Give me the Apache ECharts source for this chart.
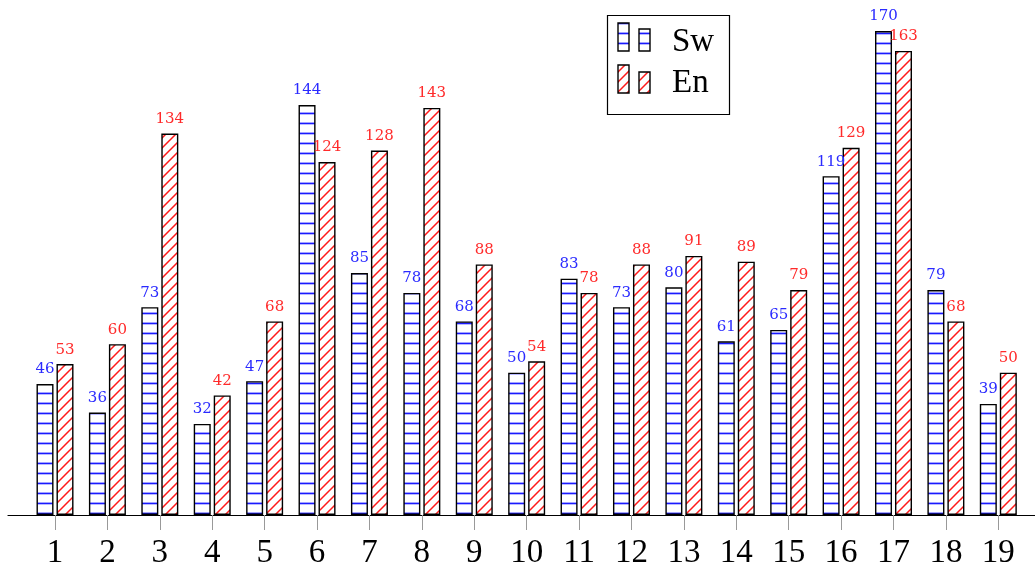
<!DOCTYPE html>
<html>
<head>
<meta charset="utf-8">
<script src="https://cdn.jsdelivr.net/npm/echarts@6/dist/echarts.min.js"></script>
<style>
html,body{margin:0;padding:0;background:#fff;}
#chart{width:1035px;height:572px;}
</style>
</head>
<body>
<div id="chart"></div>
<script>
const categories = [1,2,3,4,5,6,7,8,9,10,11,12,13,14,15,16,17,18,19];
const swValues = [46,36,73,32,47,144,85,78,68,50,83,73,80,61,65,119,170,79,39];
const enValues = [53,60,134,42,68,124,128,143,88,54,78,88,91,89,79,129,163,68,50];
const seriesNames = ['Sw','En'];

function hPattern(){
  const c = document.createElement('canvas');
  c.width = 10; c.height = 10;
  const g = c.getContext('2d');
  g.fillStyle = '#fff'; g.fillRect(0,0,10,10);
  g.fillStyle = '#1a1aff'; g.fillRect(0,2.6,10,1.7);
  return c;
}
function dPattern(){
  const c = document.createElement('canvas');
  c.width = 10; c.height = 10;
  const g = c.getContext('2d');
  g.fillStyle = '#fff'; g.fillRect(0,0,10,10);
  g.strokeStyle = '#ff1a1a'; g.lineWidth = 1.5;
  g.beginPath();
  g.moveTo(-2,12); g.lineTo(12,-2);
  g.moveTo(-2,2); g.lineTo(2,-2);
  g.moveTo(8,12); g.lineTo(12,8);
  g.stroke();
  return c;
}
const swPat = hPattern();
const enPat = dPattern();

const chart = echarts.init(document.getElementById('chart'), null, {renderer:'canvas'});
const labelFont = 'DejaVu Serif';
const axisFont = 'Liberation Serif';

function mk(name, vals, pat, lblColor){
  return {
    name: name,
    type: 'bar',
    barWidth: 17,
    barGap: '17.6%',
    data: categories.map((c,i)=>[c, vals[i]]),
    itemStyle: {color: {image: pat, repeat: 'repeat'}, borderColor: '#000', borderWidth: 1.4},
    label: {
      show: true, position: 'top', distance: 7,
      color: lblColor, fontFamily: labelFont, fontSize: 15,
      formatter: p => String(p.value[1])
    },
    emphasis: {disabled: true},
    animation: false
  };
}

const option = {
  animation: false,
  grid: {left: 8, right: 0, top: 0, bottom: 57},
  xAxis: {
    type: 'value', min: 0.103, max: 19.70,
    splitLine: {show: false},
    axisLine: {show: true, lineStyle: {color: '#000', width: 1.2}},
    axisTick: {show: true, customValues: categories, length: 15, lineStyle: {color: '#999', width: 1}},
    axisLabel: {customValues: categories, color: '#000', fontFamily: axisFont, fontSize: 33, margin: 22}
  },
  yAxis: {type: 'value', min: 0, max: 180.9, show: false, splitLine: {show: false}},
  series: [
    mk(seriesNames[0], swValues, swPat, '#2a2aff'),
    mk(seriesNames[1], enValues, enPat, '#ff2a2a')
  ],
  graphic: [
    {type: 'rect', shape: {x: 607.5, y: 15.5, width: 122, height: 99}, style: {fill: '#fff', stroke: '#000', lineWidth: 1.2}, z: 100},
    {type: 'rect', shape: {x: 618, y: 23, width: 11, height: 28}, style: {fill: {image: swPat, repeat: 'repeat'}, stroke: '#000', lineWidth: 1.4}, z: 101},
    {type: 'rect', shape: {x: 639, y: 29, width: 11, height: 22}, style: {fill: {image: swPat, repeat: 'repeat'}, stroke: '#000', lineWidth: 1.4}, z: 101},
    {type: 'rect', shape: {x: 618, y: 65, width: 11, height: 28}, style: {fill: {image: enPat, repeat: 'repeat'}, stroke: '#000', lineWidth: 1.4}, z: 101},
    {type: 'rect', shape: {x: 639, y: 72, width: 11, height: 21}, style: {fill: {image: enPat, repeat: 'repeat'}, stroke: '#000', lineWidth: 1.4}, z: 101},
    {type: 'text', x: 672, y: 42, style: {text: seriesNames[0], font: '33px "Liberation Serif"', fill: '#000', textVerticalAlign: 'middle'}, z: 101},
    {type: 'text', x: 672, y: 83, style: {text: seriesNames[1], font: '33px "Liberation Serif"', fill: '#000', textVerticalAlign: 'middle'}, z: 101}
  ]
};
chart.setOption(option);
</script>
</body>
</html>
